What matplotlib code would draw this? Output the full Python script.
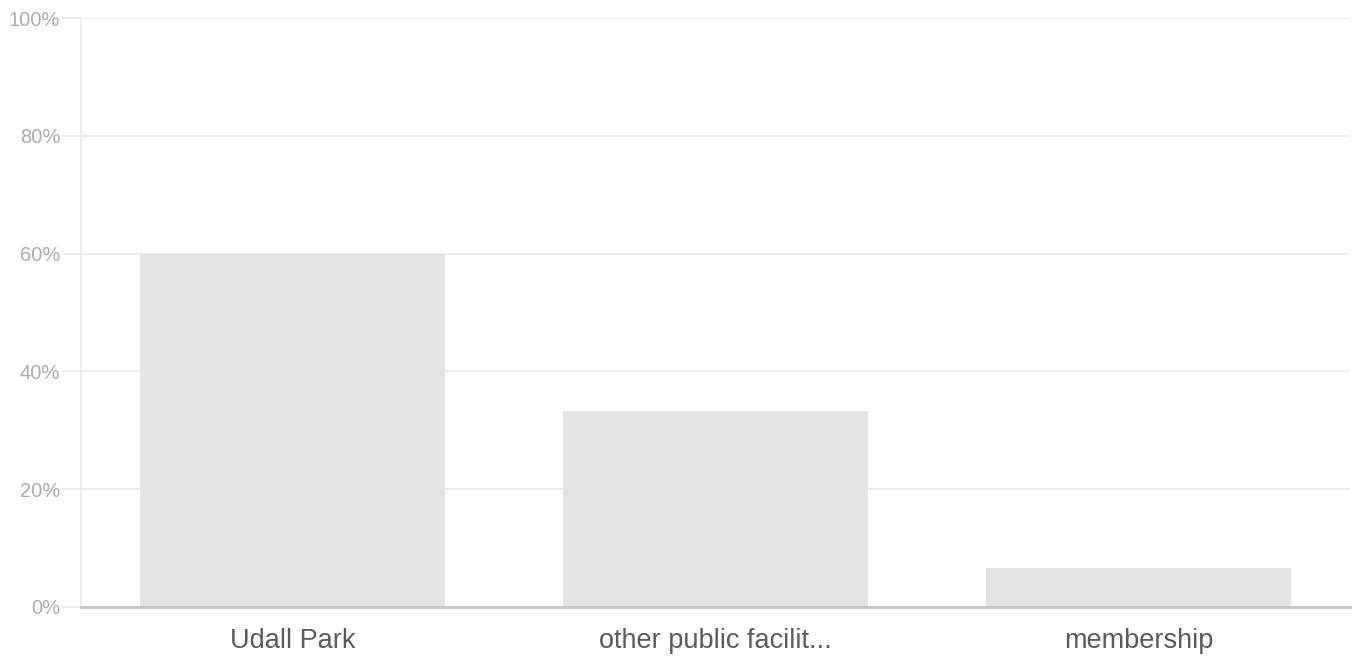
import matplotlib.pyplot as plt
import numpy as np

categories = ['Udall Park', 'other public facilit...', 'membership']
values = [60.0, 33.3, 6.7]
yticks = [0, 20, 40, 60, 80, 100]

plt.rcParams['font.family'] = ['Liberation Sans', 'DejaVu Sans']

fig = plt.figure(figsize=(13.52, 6.58), dpi=100)
ax = fig.add_axes([81 / 1352, 51 / 658, 1269 / 1352, 589 / 658])

x = np.arange(len(categories))
ax.bar(x, values, width=0.72, color='#e3e3e3', zorder=2)

ax.set_xlim(-0.5, len(categories) - 0.5)
ax.set_ylim(0, 100)
ax.set_yticks(yticks)
ax.set_yticklabels([f'{t}%' for t in yticks])
ax.set_xticks(x)
ax.set_xticklabels(categories)

ax.grid(axis='y', color='#ebebeb', linewidth=1.3, zorder=0)
ax.tick_params(axis='y', length=14, width=1.3, color='#ebebeb', labelcolor='#ababab',
               labelsize=14.5, pad=1)
ax.tick_params(axis='x', length=0, labelcolor='#5a5a5a', labelsize=19.5, pad=15)

for side in ['top', 'right']:
    ax.spines[side].set_visible(False)
ax.spines['left'].set_color('#ebebeb')
ax.spines['left'].set_linewidth(1.3)
ax.spines['bottom'].set_color('#c4c4c4')
ax.spines['bottom'].set_linewidth(2)
ax.spines['bottom'].set_zorder(3)

fig.savefig('out.png', dpi=100)
